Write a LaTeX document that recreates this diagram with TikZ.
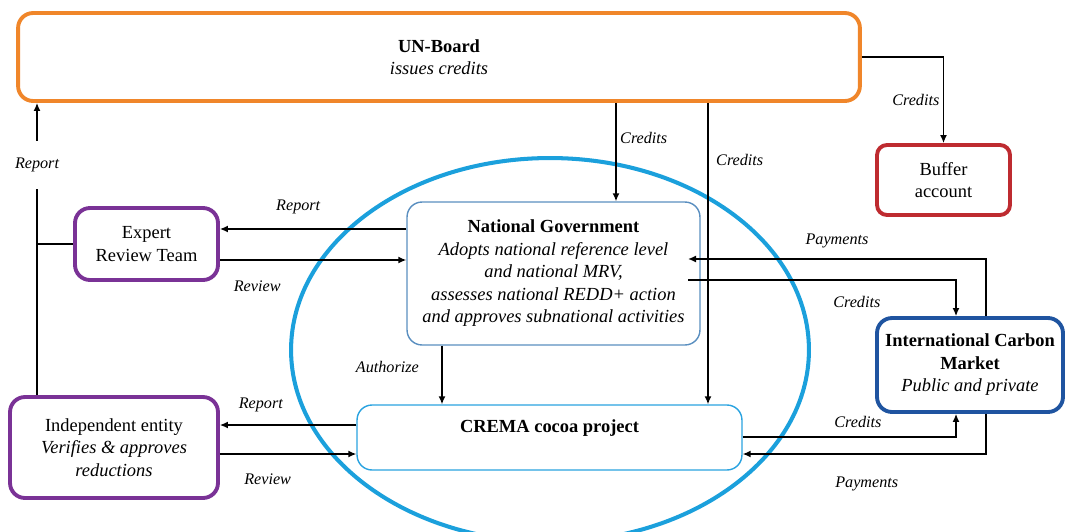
\documentclass[tikz,border=0pt]{standalone}
\usepackage{fontspec}
\setmainfont{Liberation Serif}
\usepackage{xcolor}
\usetikzlibrary{arrows.meta,positioning,calc}
\definecolor{unorange}{HTML}{F0862A}
\definecolor{bufred}{HTML}{BE2B30}
\definecolor{expurple}{HTML}{7A3296}
\definecolor{ellblue}{HTML}{1BA0DC}
\definecolor{mktblue}{HTML}{1F54A0}
\definecolor{govblue}{HTML}{5A8FC0}
\definecolor{cremablue}{HTML}{2AA3E0}
\tikzset{
  >={Latex[length=1.6mm,width=1.4mm]},
  box/.style={rounded corners=3mm, fill=white, align=center, inner sep=2pt,
    font=\fontsize{10.5}{12.8}\selectfont},
  thickbox/.style={box, draw, line width=2.2pt},
  thinbox/.style={box, draw, line width=0.8pt},
  conn/.style={->, line width=0.8pt},
  lbl/.style={font=\fontsize{9.2}{11}\selectfont\itshape, inner sep=2pt},
}

\begin{document}
\begin{tikzpicture}[x=0.02cm, y=-0.02cm]
    \useasboundingbox (0,0) rectangle (1072,531);

    % national scope
    \draw[ellblue, line width=2.3pt] (550,350) ellipse [x radius=5.18cm, y radius=3.84cm];

    % nodes
    \node[thickbox, draw=unorange, minimum width=16.84cm, minimum height=1.76cm] (board) at (439,57)
      {\textbf{UN-Board}\\\textit{issues credits}};
    \node[thickbox, draw=bufred, rounded corners=2mm, minimum width=2.66cm, minimum height=1.4cm] (buffer) at (943.5,180)
      {Buffer\\account};
    \node[thickbox, draw=expurple, minimum width=2.86cm, minimum height=1.44cm] (expert) at (146.5,244)
      {Expert\\Review Team};
    \node[thinbox, draw=govblue, minimum width=5.86cm, minimum height=2.86cm] (gov) at (553.5,273.5)
      {\textbf{National Government}\\\textit{Adopts national reference level}\\\textit{and national MRV,}\\
       \textit{assesses national REDD+ action}\\\textit{and approves subnational activities}};
    \node[thickbox, draw=expurple, minimum width=4.16cm, minimum height=2.02cm] (indep) at (114,447.5)
      {Independent entity\\\textit{Verifies \& approves}\\\textit{reductions}};
    \node[thinbox, draw=cremablue, minimum width=7.7cm, minimum height=1.3cm] (crema) at (549.5,437.5)
      {\textbf{CREMA cocoa project}\\\mbox{}};
    \node[thickbox, draw=mktblue, minimum width=3.72cm, minimum height=1.88cm] (market) at (970,365)
      {\textbf{International Carbon}\\\textbf{Market}\\\textit{Public and private}};

    % levels of the connectors
    \coordinate (xrep)  at (37,0);
    \coordinate (xone)  at (616,0);
    \coordinate (xtwo)  at (708,0);
    \coordinate (xaut)  at (442,0);
    \coordinate (xin)   at (688,0);
    \coordinate (xcred) at (956,0);
    \coordinate (xpay)  at (986,0);
    \coordinate (yexrep) at (0,229);
    \coordinate (yexrev) at (0,260);
    \coordinate (yinrep) at (0,425);
    \coordinate (yinrev) at (0,454);
    \coordinate (ygpay)  at (0,259);
    \coordinate (ygcred) at (0,280);
    \coordinate (yccred) at (0,437);
    \coordinate (ycpay)  at (0,454);

    % credits from the board
    \draw[conn] (board.east) -| node[lbl, left, pos=0.75] {Credits} (buffer.north);
    \draw[conn] (board.south -| xone) -- node[lbl, right, pos=0.36] {Credits} (gov.north -| xone);
    \draw[conn] (board.south -| xtwo) -- node[lbl, right=0.8mm, pos=0.19] {Credits} (crema.north -| xtwo);

    % verification loops
    \draw[conn] (indep.north -| xrep) -- node[lbl, fill=white, inner ysep=3.4mm, pos=0.787] {Report} (board.south -| xrep);
    \draw[line width=0.8pt] (xrep |- expert.west) -- (expert.west);
    \draw[conn] (gov.west |- yexrep) -- node[lbl, above=2.2mm, pos=0.58] {Report} (expert.east |- yexrep);
    \draw[conn] (expert.east |- yexrev) -- node[lbl, below=3.4mm, pos=0.2] {Review} (gov.west |- yexrev);
    \draw[conn] (crema.west |- yinrep) -- node[lbl, above=1.8mm, pos=0.7] {Report} (indep.east |- yinrep);
    \draw[conn] (indep.east |- yinrev) -- node[lbl, below=3.2mm, pos=0.35] {Review} (crema.west |- yinrev);
    \draw[conn] (gov.south -| xaut) -- node[lbl, left=3.8mm, pos=0.37] {Authorize} (crema.north -| xaut);

    % trade with the market
    \draw[conn] (market.north -| xpay) |- node[lbl, above=1.4mm, pos=0.75] {Payments} (xin |- ygpay);
    \draw[conn] (xin |- ygcred) -| node[lbl, below=2.4mm, pos=0.315] {Credits} (market.north -| xcred);
    \draw[conn] (crema.east |- yccred) -| node[lbl, above=1mm, pos=0.27] {Credits} (market.south -| xcred);
    \draw[conn] (market.south -| xpay) |- node[lbl, below=3.8mm, pos=0.745] {Payments} (crema.east |- ycpay);
\end{tikzpicture}
\end{document}
